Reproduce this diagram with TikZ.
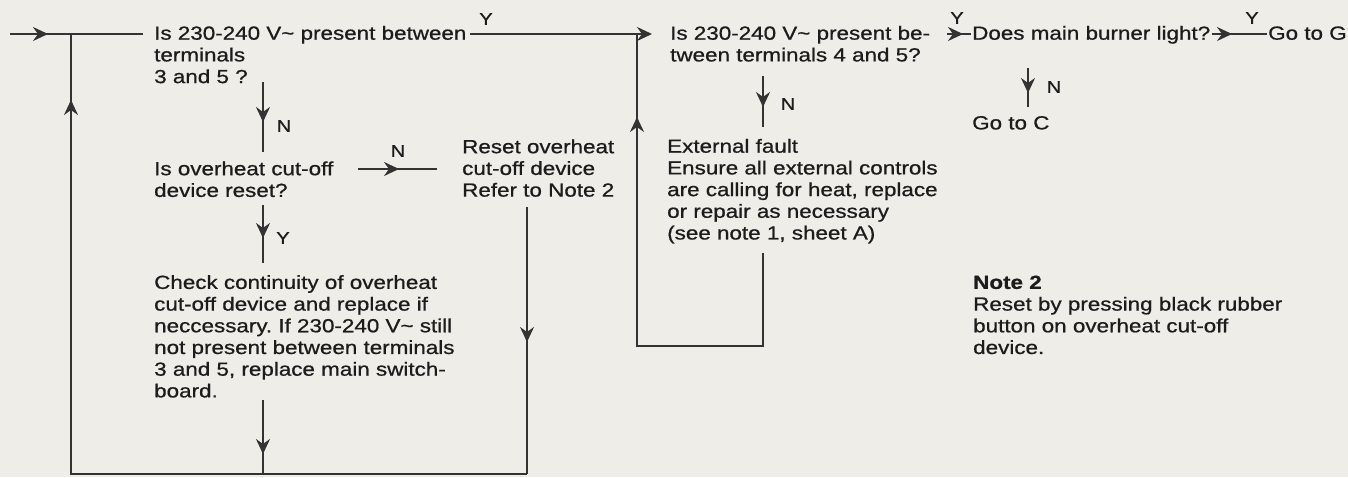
\documentclass[tikz,border=0pt]{standalone}
\usepackage{fontspec}
\newfontfamily\diafont[FakeStretch=1.18,FakeBold=0.8]{Liberation Sans}
\usetikzlibrary{arrows.meta,decorations.markings}
\definecolor{paper}{HTML}{EEEDE8}
\definecolor{ink}{HTML}{1C1C1C}
\definecolor{wirec}{HTML}{333333}
\frenchspacing
\tikzset{
  txt/.style={anchor=north west, inner sep=0pt, align=left, text=ink,
              font=\diafont\fontsize{19}{21.7}\selectfont\frenchspacing},
  lbl/.style={inner sep=0pt, text=ink, font=\diafont\fontsize{17}{20}\selectfont},
  wire/.style={draw=wirec, line width=1.9pt},
  midarr/.style={postaction={decorate},
     decoration={markings, mark=at position #1pt with {\arrow{>}}}},
}
\begin{document}
\begin{tikzpicture}[x=1pt, y=-1pt, >={Stealth[length=15pt,width=14pt,inset=5pt]}]
\useasboundingbox (0,0) rectangle (1348,477);
\fill[paper] (0,0) rectangle (1348,477);

% ---- text nodes ----
\node[txt] (q1) at (154,24.3) {\strut Is 230-240 V\textasciitilde\ present between\\terminals\\3 and 5 ?};
\node[txt] (q2) at (670,24.3) {\strut Is 230-240 V\textasciitilde\ present be-\\tween terminals 4 and 5?};
\node[txt] (q3) at (972,24.3) {\strut Does main burner light?};
\node[txt] (g)  at (1268,24.3) {\strut Go to G};
\node[txt] (c)  at (972,114) {\strut Go to C};
\node[txt] (q4) at (154,159.8) {\strut Is overheat cut-off\\device reset?};
\node[txt] (r)  at (462,137.8) {\strut Reset overheat\\cut-off device\\Refer to Note 2};
\node[txt] (f)  at (667,137.3) {\strut External fault\\Ensure all external controls\\are calling for heat, replace\\or repair as necessary\\(see note 1, sheet A)};
\node[txt] (chk) at (154,273.5) {\strut Check continuity of overheat\\cut-off device and replace if\\neccessary. If 230-240 V\textasciitilde\ still\\not present between terminals\\3 and 5, replace main switch-\\board.};
\node[txt] (n2) at (973,273.5) {\strut\textbf{Note 2}\\Reset by pressing black rubber\\button on overheat cut-off\\device.};

% ---- labels ----
\node[lbl] (ly1) at (486,19) {Y};
\node[lbl] (ly2) at (957,18) {Y};
\node[lbl] (ly3) at (1252,18) {Y};
\node[lbl] (ln1) at (284,126) {N};
\node[lbl] (ln2) at (398,151) {N};
\node[lbl] (ly4) at (283,238) {Y};
\node[lbl] (ln3) at (788,104) {N};
\node[lbl] (ln4) at (1054,87) {N};

% ---- junction coordinates ----
\coordinate (in) at (10,34);
\coordinate (e0) at (143,34);
\coordinate (j0) at (71,34);
\coordinate (b0) at (71,474);
\coordinate (b1) at (527,474);
\coordinate (r0) at (527,207);
\coordinate (k0) at (263,400);
\coordinate (k1) at (263,474);
\coordinate (a0) at (263,82);
\coordinate (a1) at (263,152);
\coordinate (d0) at (263,205);
\coordinate (d1) at (263,263);
\coordinate (h0) at (358,169);
\coordinate (h1) at (437,169);
\coordinate (y0) at (470,34);
\coordinate (y1) at (652,34);
\coordinate (u0) at (763,253);
\coordinate (u1) at (763,346);
\coordinate (u2) at (637,346);
\coordinate (u3) at (637,34);
\coordinate (v0) at (763,76);
\coordinate (v1) at (763,127);
\coordinate (s0) at (947,34);
\coordinate (s1) at (971,34);
\coordinate (t0) at (1212,34);
\coordinate (t1) at (1267,34);
\coordinate (w0) at (1028,68);
\coordinate (w1) at (1028,107);

% ---- connectors ----
\draw[wire, midarr=38] (in) -- (e0);
\draw[wire, midarr=830] (b1) -- (b0) -- (j0);
\draw[wire, midarr=135] (r0) -- (b1);
\draw[wire, midarr=54] (k0) -- (k1);
\draw[wire, midarr=40] (a0) -- (a1);
\draw[wire, midarr=33] (d0) -- (d1);
\draw[wire, midarr=41] (h0) -- (h1);
\draw[wire, ->] (y0) -- (y1);
\draw[wire, midarr=448] (u0) -- (u1) -- (u2) -- (u3);
\draw[wire, midarr=31] (v0) -- (v1);
\draw[wire, midarr=16] (s0) -- (s1);
\draw[wire, midarr=20] (t0) -- (t1);
\draw[wire, midarr=25] (w0) -- (w1);
\end{tikzpicture}
\end{document}
